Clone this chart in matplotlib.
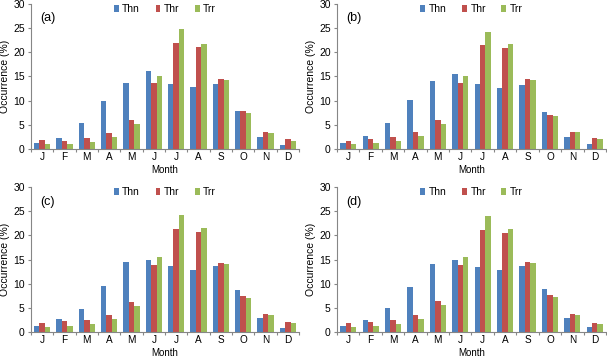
import numpy as np
import matplotlib
matplotlib.use("Agg")
import matplotlib.pyplot as plt
from matplotlib.ticker import FixedLocator

plt.rcParams.update({
    "font.family": ["Liberation Sans", "DejaVu Sans"],
    "font.size": 7,
    "axes.linewidth": 0.8,
})

BLUE = "#4F81BD"
RED = "#C0504D"
GREEN = "#9BBB59"
AXIS = "#868686"

months = ["J", "F", "M", "A", "M", "J", "J", "A", "S", "O", "N", "D"]
series_names = ["Thn", "Thr", "Trr"]
panel_labels = ["(a)", "(b)", "(c)", "(d)"]

# panel (a)
thn_a = [1.3, 2.2, 5.4, 10.0, 13.6, 16.2, 13.5, 12.9, 13.4, 7.8, 2.4, 0.9]
thr_a = [1.8, 1.7, 2.3, 3.3, 5.9, 13.6, 21.9, 21.1, 14.5, 7.8, 3.6, 2.0]
trr_a = [1.1, 1.1, 1.5, 2.4, 5.2, 15.0, 24.8, 21.7, 14.2, 7.4, 3.4, 1.7]
# panel (b)
thn_b = [1.2, 2.6, 5.3, 10.1, 14.0, 15.5, 13.5, 12.6, 13.3, 7.7, 2.4, 1.1]
thr_b = [1.7, 2.0, 2.4, 3.5, 6.1, 13.7, 21.6, 20.9, 14.5, 7.1, 3.6, 2.2]
trr_b = [1.1, 1.3, 1.6, 2.6, 5.2, 15.0, 24.3, 21.8, 14.2, 6.8, 3.5, 2.1]
# panel (c)
thn_c = [1.2, 2.6, 4.7, 9.6, 14.4, 15.0, 13.7, 12.8, 13.6, 8.6, 2.8, 0.9]
thr_c = [1.8, 2.2, 2.4, 3.6, 6.2, 13.9, 21.3, 20.7, 14.3, 7.5, 3.8, 2.1]
trr_c = [1.1, 1.3, 1.6, 2.6, 5.4, 15.6, 24.2, 21.6, 14.0, 7.0, 3.6, 1.8]
# panel (d)
thn_d = [1.2, 2.4, 5.0, 9.4, 14.0, 14.8, 13.5, 12.9, 13.7, 8.8, 3.0, 1.0]
thr_d = [1.8, 2.1, 2.5, 3.6, 6.5, 13.8, 21.1, 20.5, 14.5, 7.6, 3.7, 1.9]
trr_d = [1.1, 1.3, 1.7, 2.7, 5.5, 15.5, 24.0, 21.3, 14.3, 7.2, 3.5, 1.7]

panels = [(thn_a, thr_a, trr_a), (thn_b, thr_b, trr_b),
          (thn_c, thr_c, trr_c), (thn_d, thr_d, trr_d)]

fig = plt.figure(figsize=(6.07, 3.58), dpi=100)
W, H = 607, 358
# axes boxes in pixels: left, top, right, bottom
boxes = [(31, 4, 299, 149), (337, 4, 606, 149),
         (31, 187, 299, 332), (337, 187, 606, 332)]

x = np.arange(len(months))
bw = 0.24
for (l, t, r, b), vals, lab in zip(boxes, panels, panel_labels):
    ax = fig.add_axes([l / W, 1 - b / H, (r - l) / W, (b - t) / H])
    for i, (v, c, name) in enumerate(zip(vals, [BLUE, RED, GREEN], series_names)):
        ax.bar(x + (i - 1) * bw, v, width=bw, color=c, label=name,
               edgecolor="none")
    ax.set_xlim(-0.5, 11.5)
    ax.set_ylim(0, 30)
    ax.set_yticks([0, 5, 10, 15, 20, 25, 30])
    ax.set_xticks(x)
    ax.set_xticklabels(months)
    ax.xaxis.set_minor_locator(FixedLocator(np.arange(-0.5, 12, 1)))
    ax.tick_params(axis="x", which="major", length=0, pad=2.5, labelsize=7.2)
    ax.tick_params(axis="x", which="minor", length=2.5, width=0.8,
                   direction="out", color=AXIS)
    ax.tick_params(axis="y", length=2.5, width=0.8, labelsize=7.5, pad=2,
                   color=AXIS)
    for s in ("top", "right"):
        ax.spines[s].set_visible(False)
    for s in ("left", "bottom"):
        ax.spines[s].set_color(AXIS)
    ax.set_xlabel("Month", fontsize=7, labelpad=1.5)
    ax.set_ylabel("Occurrence (%)", fontsize=7.5, labelpad=2)
    ax.text(0.034, 0.90, lab, transform=ax.transAxes, fontsize=9,
            va="center")
    ax.legend(loc="center", bbox_to_anchor=(0.5, 0.965), ncol=3,
              frameon=False, fontsize=7.5, handlelength=0.45, handleheight=0.55,
              handletextpad=0.35, columnspacing=1.5, borderpad=0)

fig.savefig("out.png", dpi=100, facecolor="white")
